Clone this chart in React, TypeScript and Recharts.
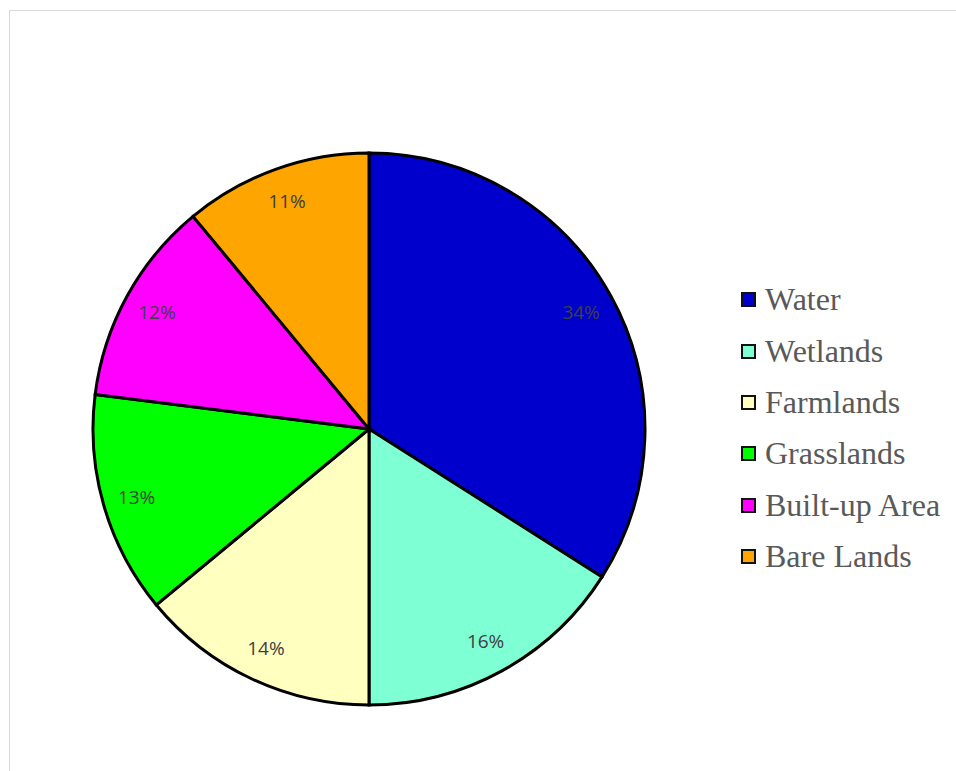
import { PieChart, Pie, Cell, Legend } from 'recharts';

const categories = ['Water', 'Wetlands', 'Farmlands', 'Grasslands', 'Built-up Area', 'Bare Lands'];
const shares = [34, 16, 14, 13, 12, 11];
const colors = ['#0000CC', '#7FFFD4', '#FFFFC0', '#00FF00', '#FF00FF', '#FFA500'];

const data = categories.map((name, i) => ({ name, value: shares[i] }));

const RADIAN = Math.PI / 180;

const renderLabel = (props: any) => {
  const { cx, cy, midAngle, outerRadius, percent } = props;
  const r = outerRadius * 0.877;
  const x = cx + r * Math.cos(-midAngle * RADIAN);
  const y = cy + r * Math.sin(-midAngle * RADIAN);
  return (
    <text
      x={x}
      y={y}
      fill="#404040"
      textAnchor="middle"
      dominantBaseline="central"
      style={{ fontFamily: "'Open Sans', sans-serif", fontSize: 19 }}
    >
      {`${Math.round(percent * 100)}%`}
    </text>
  );
};

// legend drawn in data order, not sorted
const renderLegend = () => (
  <div>
    {categories.map((name, i) => (
      <div key={name} style={{ display: 'flex', alignItems: 'center', height: 51.4 }}>
        <span
          style={{
            width: 11,
            height: 11,
            background: colors[i],
            border: '2px solid #111',
            marginRight: 9,
            display: 'inline-block',
          }}
        />
        <span
          style={{
            fontFamily: "'Liberation Serif', 'Times New Roman', serif",
            fontSize: 32,
            color: '#595959',
            whiteSpace: 'nowrap',
          }}
        >
          {name}
        </span>
      </div>
    ))}
  </div>
);

export default function App() {
  return (
    <div
      style={{
        position: 'absolute',
        left: 0,
        top: 0,
        width: 956,
        height: 771,
        overflow: 'hidden',
        background: '#fff',
      }}
    >
      <div
        style={{
          position: 'absolute',
          left: 9,
          top: 10,
          width: 1000,
          height: 800,
          border: '1px solid #d9d9d9',
        }}
      />
      <div style={{ position: 'absolute', left: 0, top: 0 }}>
        <PieChart width={956} height={771} margin={{ top: 0, right: 0, bottom: 0, left: 0 }}>
          <Pie
            data={data}
            dataKey="value"
            nameKey="name"
            cx={369}
            cy={429}
            outerRadius={276}
            startAngle={90}
            endAngle={-270}
            stroke="#000"
            strokeWidth={3}
            label={renderLabel}
            labelLine={false}
            isAnimationActive={false}
          >
            {data.map((d, i) => (
              <Cell key={d.name} fill={colors[i]} />
            ))}
          </Pie>
          <Legend
            layout="vertical"
            content={renderLegend}
            wrapperStyle={{ position: 'absolute', left: 741, top: 274, width: 220 }}
          />
        </PieChart>
      </div>
    </div>
  );
}
